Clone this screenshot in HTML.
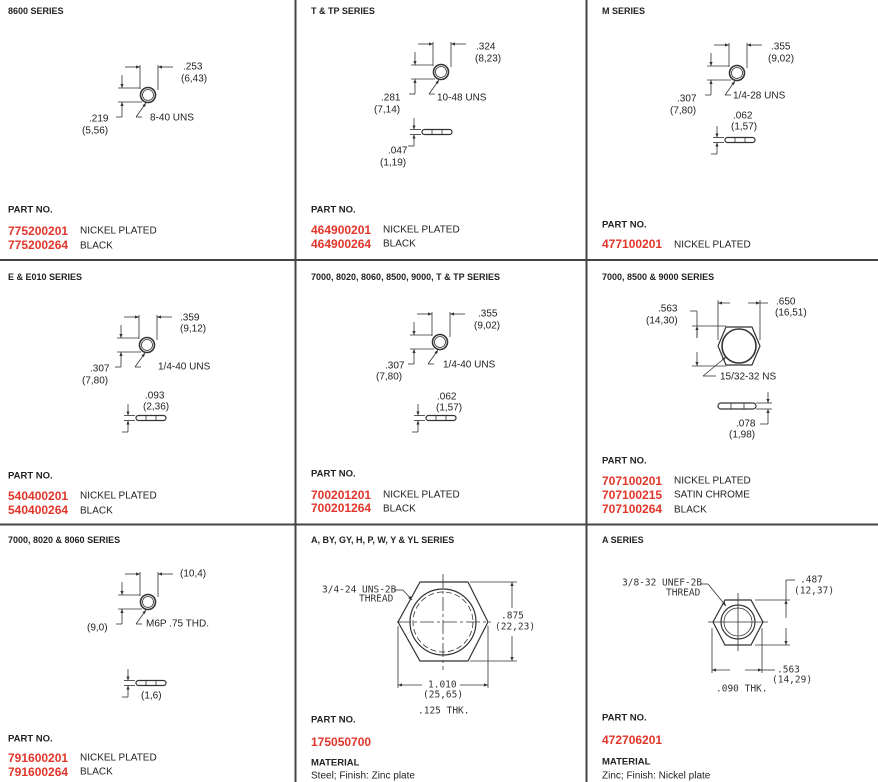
<!DOCTYPE html>
<html><head><meta charset="utf-8"><style>
html,body{margin:0;padding:0;background:#fff}
svg{display:block}
text{font-family:"Liberation Sans",Arial,sans-serif;fill:#222;dominant-baseline:central}
.h{font-size:9px;font-weight:bold}
.p{font-size:9.5px;font-weight:bold}
.r{font-size:12px;font-weight:bold;fill:#e2352a}
.d{font-size:10px}
.m{font-size:9.5px;font-family:"DejaVu Sans Mono","Liberation Mono",monospace;fill:#333}
</style></head><body>
<svg width="878" height="782" viewBox="0 0 878 782" xmlns="http://www.w3.org/2000/svg">
<defs>
<marker id="ar" markerWidth="6" markerHeight="6" refX="5" refY="3" orient="auto"><path d="M0,1 L5,3 L0,5 z" fill="#333"/></marker>
<g id="nut" stroke="#333" fill="none" stroke-width="0.8">
<circle r="7.5" stroke-width="1.6"/><circle r="5.5" stroke-width="0.8"/>
<line x1="-8" y1="-30" x2="-8" y2="-6"/><line x1="10" y1="-30" x2="10" y2="-5"/>
<line x1="-23" y1="-28" x2="-8" y2="-28" marker-end="url(#ar)"/><line x1="25" y1="-28" x2="10" y2="-28" marker-end="url(#ar)"/>
<line x1="-30" y1="-7" x2="-8" y2="-7"/><line x1="-30" y1="7" x2="-6" y2="7"/>
<line x1="-26" y1="-20" x2="-26" y2="-7" marker-end="url(#ar)"/><line x1="-26" y1="22" x2="-26" y2="7" marker-end="url(#ar)"/>
<line x1="-26" y1="22" x2="-32" y2="22"/>
<line x1="-12" y1="22" x2="-2" y2="8" marker-end="url(#ar)"/><line x1="-12" y1="22" x2="-6" y2="22"/>
</g>
<g id="wash" stroke="#333" fill="none" stroke-width="0.8">
<rect x="-2" y="-2.5" width="30" height="5" rx="2.5" stroke-width="1.2"/>
<line x1="8" y1="-2.5" x2="8" y2="2.5"/><line x1="18" y1="-2.5" x2="18" y2="2.5"/>
<line x1="-14" y1="-2.5" x2="-3" y2="-2.5"/><line x1="-14" y1="2.5" x2="-3" y2="2.5"/>
<line x1="-10" y1="-14" x2="-10" y2="-2.5" marker-end="url(#ar)"/><line x1="-10" y1="14" x2="-10" y2="2.5" marker-end="url(#ar)"/>
<line x1="-10" y1="14" x2="-16" y2="14"/>
</g>
</defs>
<g stroke="#444" stroke-width="2">
<line x1="295.5" y1="0" x2="295.5" y2="782"/><line x1="586.5" y1="0" x2="586.5" y2="782"/>
<line x1="0" y1="260" x2="878" y2="260"/><line x1="0" y1="524.5" x2="878" y2="524.5"/>
</g>

<!-- Cell 1 -->
<text class="h" x="8" y="11">8600 SERIES</text>
<use href="#nut" x="148" y="95"/>
<text class="d" x="183" y="67">.253</text><text class="d" x="181" y="79">(6,43)</text>
<text class="d" x="89" y="119">.219</text><text class="d" x="82" y="131">(5,56)</text>
<text class="d" x="150" y="118">8-40 UNS</text>
<text class="p" x="8" y="210">PART NO.</text>
<text class="r" x="8" y="231">775200201</text><text class="d" x="80" y="231">NICKEL PLATED</text>
<text class="r" x="8" y="245">775200264</text><text class="d" x="80" y="246">BLACK</text>

<!-- Cell 2 -->
<text class="h" x="311" y="11">T &amp; TP SERIES</text>
<use href="#nut" x="441" y="72"/>
<text class="d" x="476" y="47">.324</text><text class="d" x="475" y="59">(8,23)</text>
<text class="d" x="381" y="98">.281</text><text class="d" x="374" y="110">(7,14)</text>
<text class="d" x="437" y="98">10-48 UNS</text>
<use href="#wash" x="424" y="132"/>
<text class="d" x="388" y="151">.047</text><text class="d" x="380" y="163">(1,19)</text>
<text class="p" x="311" y="210">PART NO.</text>
<text class="r" x="311" y="230">464900201</text><text class="d" x="383" y="230">NICKEL PLATED</text>
<text class="r" x="311" y="244">464900264</text><text class="d" x="383" y="244">BLACK</text>

<!-- Cell 3 -->
<text class="h" x="602" y="11">M SERIES</text>
<use href="#nut" x="737" y="73"/>
<text class="d" x="771" y="47">.355</text><text class="d" x="768" y="59">(9,02)</text>
<text class="d" x="677" y="99">.307</text><text class="d" x="670" y="111">(7,80)</text>
<text class="d" x="733" y="96">1/4-28 UNS</text>
<use href="#wash" x="727" y="140"/>
<text class="d" x="733" y="116">.062</text><text class="d" x="731" y="127">(1,57)</text>
<text class="p" x="602" y="225">PART NO.</text>
<text class="r" x="602" y="244">477100201</text><text class="d" x="674" y="245">NICKEL PLATED</text>

<!-- Row 2 cell 1 -->
<text class="h" x="8" y="277">E &amp; E010 SERIES</text>
<use href="#nut" x="147" y="345"/>
<text class="d" x="180" y="318">.359</text><text class="d" x="180" y="329">(9,12)</text>
<text class="d" x="90" y="369">.307</text><text class="d" x="82" y="381">(7,80)</text>
<text class="d" x="158" y="367">1/4-40 UNS</text>
<use href="#wash" x="138" y="418"/>
<text class="d" x="145" y="396">.093</text><text class="d" x="143" y="407">(2,36)</text>
<text class="p" x="8" y="476">PART NO.</text>
<text class="r" x="8" y="496">540400201</text><text class="d" x="80" y="496">NICKEL PLATED</text>
<text class="r" x="8" y="510">540400264</text><text class="d" x="80" y="511">BLACK</text>

<!-- Row 2 cell 2 -->
<text class="h" x="311" y="277">7000, 8020, 8060, 8500, 9000, T &amp; TP SERIES</text>
<use href="#nut" x="440" y="342"/>
<text class="d" x="478" y="314">.355</text><text class="d" x="474" y="326">(9,02)</text>
<text class="d" x="385" y="366">.307</text><text class="d" x="376" y="377">(7,80)</text>
<text class="d" x="443" y="365">1/4-40 UNS</text>
<use href="#wash" x="428" y="418"/>
<text class="d" x="437" y="397">.062</text><text class="d" x="436" y="408">(1,57)</text>
<text class="p" x="311" y="474">PART NO.</text>
<text class="r" x="311" y="495">700201201</text><text class="d" x="383" y="495">NICKEL PLATED</text>
<text class="r" x="311" y="508">700201264</text><text class="d" x="383" y="509">BLACK</text>

<!-- Row 2 cell 3 -->
<text class="h" x="602" y="277">7000, 8500 &amp; 9000 SERIES</text>
<g stroke="#333" fill="none" stroke-width="0.8">
<polygon points="726,327 752,327 760,346 752,365 726,365 718,346" stroke-width="1.2"/>
<circle cx="739" cy="346" r="17" stroke-width="1.6"/>
<line x1="718" y1="300" x2="718" y2="340"/><line x1="760" y1="300" x2="760" y2="340"/>
<line x1="730" y1="303" x2="718" y2="303" marker-end="url(#ar)"/><line x1="748" y1="303" x2="760" y2="303" marker-end="url(#ar)"/>
<line x1="760" y1="303" x2="768" y2="303"/>
<line x1="692" y1="326" x2="726" y2="326"/><line x1="692" y1="366" x2="726" y2="366"/>
<line x1="697" y1="338" x2="697" y2="326" marker-end="url(#ar)"/><line x1="697" y1="352" x2="697" y2="366" marker-end="url(#ar)"/>
<line x1="697" y1="311" x2="697" y2="338"/><line x1="697" y1="311" x2="690" y2="311"/>
<line x1="703" y1="376" x2="726" y2="357" marker-end="url(#ar)"/><line x1="703" y1="376" x2="716" y2="376"/>
<rect x="718" y="403" width="38" height="6" rx="3" stroke-width="1.2"/>
<line x1="731" y1="403" x2="731" y2="409"/><line x1="744" y1="403" x2="744" y2="409"/>
<line x1="756" y1="403" x2="772" y2="403"/><line x1="756" y1="409" x2="772" y2="409"/>
<line x1="768" y1="392" x2="768" y2="403" marker-end="url(#ar)"/><line x1="768" y1="420" x2="768" y2="409" marker-end="url(#ar)"/>
<line x1="768" y1="424" x2="768" y2="420"/><line x1="768" y1="424" x2="760" y2="424"/>
</g>
<text class="d" x="776" y="302">.650</text><text class="d" x="775" y="313">(16,51)</text>
<text class="d" x="658" y="309">.563</text><text class="d" x="646" y="321">(14,30)</text>
<text class="d" x="720" y="377">15/32-32 NS</text>
<text class="d" x="736" y="424">.078</text><text class="d" x="729" y="435">(1,98)</text>
<text class="p" x="602" y="461">PART NO.</text>
<text class="r" x="602" y="481">707100201</text><text class="d" x="674" y="481">NICKEL PLATED</text>
<text class="r" x="602" y="495">707100215</text><text class="d" x="674" y="495">SATIN CHROME</text>
<text class="r" x="602" y="509">707100264</text><text class="d" x="674" y="510">BLACK</text>

<!-- Row 3 cell 1 -->
<text class="h" x="8" y="540">7000, 8020 &amp; 8060 SERIES</text>
<use href="#nut" x="148" y="602"/>
<text class="d" x="180" y="574">(10,4)</text>
<text class="d" x="87" y="628">(9,0)</text>
<text class="d" x="146" y="624">M6P .75 THD.</text>
<use href="#wash" x="138" y="683"/>
<text class="d" x="141" y="696">(1,6)</text>
<text class="p" x="8" y="739">PART NO.</text>
<text class="r" x="8" y="758">791600201</text><text class="d" x="80" y="758">NICKEL PLATED</text>
<text class="r" x="8" y="772">791600264</text><text class="d" x="80" y="772">BLACK</text>

<!-- Row 3 cell 2 -->
<text class="h" x="311" y="540">A, BY, GY, H, P, W, Y &amp; YL SERIES</text>
<g stroke="#333" fill="none" stroke-width="0.8">
<polygon points="420,582 468,582 488,622 468,661 420,661 398,622" stroke-width="1.2"/>
<circle cx="443" cy="622" r="33" stroke-width="1.2"/><circle cx="443" cy="622" r="30" stroke-dasharray="6 3"/>
<line x1="443" y1="574" x2="443" y2="670" stroke-dasharray="14 3 3 3"/>
<line x1="397" y1="622" x2="491" y2="622" stroke-dasharray="14 3 3 3"/>
<line x1="470" y1="582" x2="517" y2="582"/><line x1="470" y1="661" x2="517" y2="661"/>
<line x1="512" y1="608" x2="512" y2="582" marker-end="url(#ar)"/><line x1="512" y1="636" x2="512" y2="661" marker-end="url(#ar)"/>
<line x1="398" y1="626" x2="398" y2="688"/><line x1="488" y1="626" x2="488" y2="688"/>
<line x1="422" y1="685" x2="398" y2="685" marker-end="url(#ar)"/><line x1="460" y1="685" x2="488" y2="685" marker-end="url(#ar)"/>
<line x1="394" y1="590" x2="403" y2="590"/><line x1="403" y1="590" x2="412" y2="600" marker-end="url(#ar)"/>
</g>
<text class="m" x="322" y="590">3/4-24 UNS-2B</text><text class="m" x="359" y="599">THREAD</text>
<text class="m" x="501" y="616">.875</text><text class="m" x="495" y="627">(22,23)</text>
<text class="m" x="428" y="685">1.010</text><text class="m" x="423" y="695">(25,65)</text>
<text class="m" x="418" y="711">.125 THK.</text>
<text class="p" x="311" y="720">PART NO.</text>
<text class="r" x="311" y="742">175050700</text>
<text class="p" x="311" y="763">MATERIAL</text>
<text class="d" x="311" y="776">Steel; Finish: Zinc plate</text>

<!-- Row 3 cell 3 -->
<text class="h" x="602" y="540">A SERIES</text>
<g stroke="#333" fill="none" stroke-width="0.8">
<polygon points="725,600 751,600 763,622 751,645 725,645 713,622" stroke-width="1.2"/>
<circle cx="738" cy="622" r="17" stroke-width="1.2"/><circle cx="738" cy="622" r="14"/>
<line x1="738" y1="593" x2="738" y2="651"/><line x1="708" y1="622" x2="768" y2="622"/>
<line x1="755" y1="600" x2="790" y2="600"/><line x1="755" y1="645" x2="790" y2="645"/>
<line x1="786" y1="618" x2="786" y2="600" marker-end="url(#ar)"/><line x1="786" y1="628" x2="786" y2="645" marker-end="url(#ar)"/>
<line x1="786" y1="580" x2="786" y2="600"/><line x1="786" y1="580" x2="795" y2="580"/>
<line x1="712" y1="628" x2="712" y2="673"/><line x1="762" y1="628" x2="762" y2="673"/>
<line x1="730" y1="670" x2="712" y2="670" marker-end="url(#ar)"/><line x1="745" y1="670" x2="762" y2="670" marker-end="url(#ar)"/>
<line x1="762" y1="670" x2="775" y2="670"/>
<line x1="700" y1="584" x2="708" y2="584"/><line x1="708" y1="584" x2="726" y2="606" marker-end="url(#ar)"/>
</g>
<text class="m" x="622" y="583">3/8-32 UNEF-2B</text><text class="m" x="666" y="593">THREAD</text>
<text class="m" x="800" y="580">.487</text><text class="m" x="794" y="591">(12,37)</text>
<text class="m" x="777" y="670">.563</text><text class="m" x="772" y="680">(14,29)</text>
<text class="m" x="716" y="689">.090 THK.</text>
<text class="p" x="602" y="718">PART NO.</text>
<text class="r" x="602" y="740">472706201</text>
<text class="p" x="602" y="762">MATERIAL</text>
<text class="d" x="602" y="776">Zinc; Finish: Nickel plate</text>
</svg>
</body></html>
